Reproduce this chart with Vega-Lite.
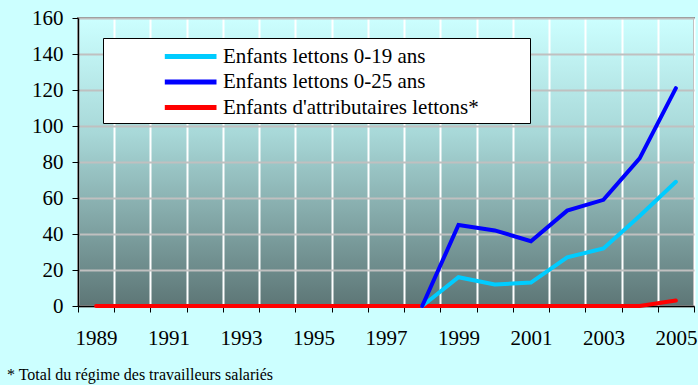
{
  "$schema": "https://vega.github.io/schema/vega-lite/v6.json",
  "autosize": "none",
  "width": 616,
  "height": 288,
  "padding": {"left": 78, "top": 18, "right": 4, "bottom": 79},
  "background": "#CCFFFF",
  "title": {
    "text": "* Total du régime des travailleurs salariés",
    "orient": "bottom",
    "anchor": "start",
    "frame": "group",
    "dx": -71,
    "offset": 32,
    "baseline": "alphabetic",
    "font": "Liberation Serif",
    "fontSize": 16,
    "fontWeight": "normal",
    "color": "#000000"
  },
  "config": {
    "view": {
      "stroke": "#808080",
      "strokeWidth": 2,
      "fill": {
        "gradient": "linear",
        "x1": 0, "y1": 0, "x2": 0, "y2": 1,
        "stops": [
          {"offset": 0, "color": "#CCFFFF"},
          {"offset": 0.4, "color": "#A8D8D8"},
          {"offset": 1, "color": "#5D7676"}
        ]
      }
    },
    "axis": {
      "labelFont": "Liberation Serif",
      "labelFontSize": 21,
      "labelColor": "#000000",
      "domainColor": "#000000",
      "tickColor": "#000000"
    }
  },
  "data": {
    "values": [
      {"series": "Enfants d'attributaires lettons*", "year": 1989, "value": 0},
      {"series": "Enfants d'attributaires lettons*", "year": 1990, "value": 0},
      {"series": "Enfants d'attributaires lettons*", "year": 1991, "value": 0},
      {"series": "Enfants d'attributaires lettons*", "year": 1992, "value": 0},
      {"series": "Enfants d'attributaires lettons*", "year": 1993, "value": 0},
      {"series": "Enfants d'attributaires lettons*", "year": 1994, "value": 0},
      {"series": "Enfants d'attributaires lettons*", "year": 1995, "value": 0},
      {"series": "Enfants d'attributaires lettons*", "year": 1996, "value": 0},
      {"series": "Enfants d'attributaires lettons*", "year": 1997, "value": 0},
      {"series": "Enfants d'attributaires lettons*", "year": 1998, "value": 0},
      {"series": "Enfants d'attributaires lettons*", "year": 1999, "value": 0},
      {"series": "Enfants d'attributaires lettons*", "year": 2000, "value": 0},
      {"series": "Enfants d'attributaires lettons*", "year": 2001, "value": 0},
      {"series": "Enfants d'attributaires lettons*", "year": 2002, "value": 0},
      {"series": "Enfants d'attributaires lettons*", "year": 2003, "value": 0},
      {"series": "Enfants d'attributaires lettons*", "year": 2004, "value": 0},
      {"series": "Enfants d'attributaires lettons*", "year": 2005, "value": 3},
      {"series": "Enfants lettons 0-19 ans", "year": 1998, "value": 0},
      {"series": "Enfants lettons 0-19 ans", "year": 1999, "value": 16},
      {"series": "Enfants lettons 0-19 ans", "year": 2000, "value": 12},
      {"series": "Enfants lettons 0-19 ans", "year": 2001, "value": 13},
      {"series": "Enfants lettons 0-19 ans", "year": 2002, "value": 27},
      {"series": "Enfants lettons 0-19 ans", "year": 2003, "value": 32},
      {"series": "Enfants lettons 0-19 ans", "year": 2004, "value": 50},
      {"series": "Enfants lettons 0-19 ans", "year": 2005, "value": 69},
      {"series": "Enfants lettons 0-25 ans", "year": 1998, "value": 0},
      {"series": "Enfants lettons 0-25 ans", "year": 1999, "value": 45},
      {"series": "Enfants lettons 0-25 ans", "year": 2000, "value": 42},
      {"series": "Enfants lettons 0-25 ans", "year": 2001, "value": 36},
      {"series": "Enfants lettons 0-25 ans", "year": 2002, "value": 53},
      {"series": "Enfants lettons 0-25 ans", "year": 2003, "value": 59},
      {"series": "Enfants lettons 0-25 ans", "year": 2004, "value": 82},
      {"series": "Enfants lettons 0-25 ans", "year": 2005, "value": 121}
    ]
  },
  "resolve": {"axis": {"x": "independent"}},
  "layer": [
    {
      "mark": {"type": "line", "strokeWidth": 4, "strokeCap": "round", "strokeJoin": "miter"},
      "encoding": {
        "x": {
          "field": "year", "type": "quantitative",
          "scale": {"domain": [1988.5, 2005.5], "nice": false, "zero": false},
          "axis": {
            "title": null,
            "orient": "bottom",
            "values": [1988.5,1989.5,1990.5,1991.5,1992.5,1993.5,1994.5,1995.5,1996.5,1997.5,1998.5,1999.5,2000.5,2001.5,2002.5,2003.5,2004.5,2005.5],
            "labels": false,
            "grid": true,
            "gridColor": "#FFFFFF",
            "gridWidth": 2,
            "gridOpacity": 1,
            "tickSize": 6,
            "tickWidth": 1,
            "domainWidth": 1.5
          }
        },
        "y": {
          "field": "value", "type": "quantitative",
          "scale": {"domain": [0, 160], "nice": false},
          "axis": {
            "title": null,
            "values": [0,20,40,60,80,100,120,140,160],
            "labelOverlap": false,
            "labelFont": "Liberation Serif",
            "labelFontSize": 21,
            "grid": true,
            "gridColor": "#C0C0C0",
            "gridWidth": 2,
            "gridOpacity": 1,
            "tickSize": 6,
            "labelPadding": 9,
            "domainWidth": 1.5
          }
        },
        "color": {
          "field": "series", "type": "nominal",
          "scale": {
            "domain": ["Enfants lettons 0-19 ans", "Enfants lettons 0-25 ans", "Enfants d'attributaires lettons*"],
            "range": ["#00CCFF", "#0000FF", "#FF0000"]
          },
          "legend": {
            "title": "\u00a0",
            "titleOrient": "right",
            "titlePadding": 46,
            "titleFontSize": 10,
            "orient": "none",
            "legendX": 25,
            "legendY": 20,
            "fillColor": "#FFFFFF",
            "strokeColor": "#000000",
            "padding": 5,
            "symbolType": "M-3.7,0H1",
            "symbolSize": 484,
            "symbolStrokeWidth": 5,
            "symbolOffset": 84,
            "labelFont": "Liberation Serif",
            "labelFontSize": 21,
            "labelColor": "#000000",
            "labelLimit": 400,
            "labelOffset": 4,
            "rowPadding": 1.5
          }
        }
      }
    },
    {
      "mark": {"type": "point", "opacity": 0},
      "encoding": {
        "x": {
          "field": "year", "type": "quantitative",
          "axis": {
            "title": null,
            "orient": "bottom",
            "values": [1989,1991,1993,1995,1997,1999,2001,2003,2005],
            "format": "d",
            "ticks": false,
            "tickSize": 0,
            "domain": false,
            "grid": false,
            "labelBaseline": "alphabetic",
            "labelPadding": 38
          }
        }
      }
    }
  ]
}
